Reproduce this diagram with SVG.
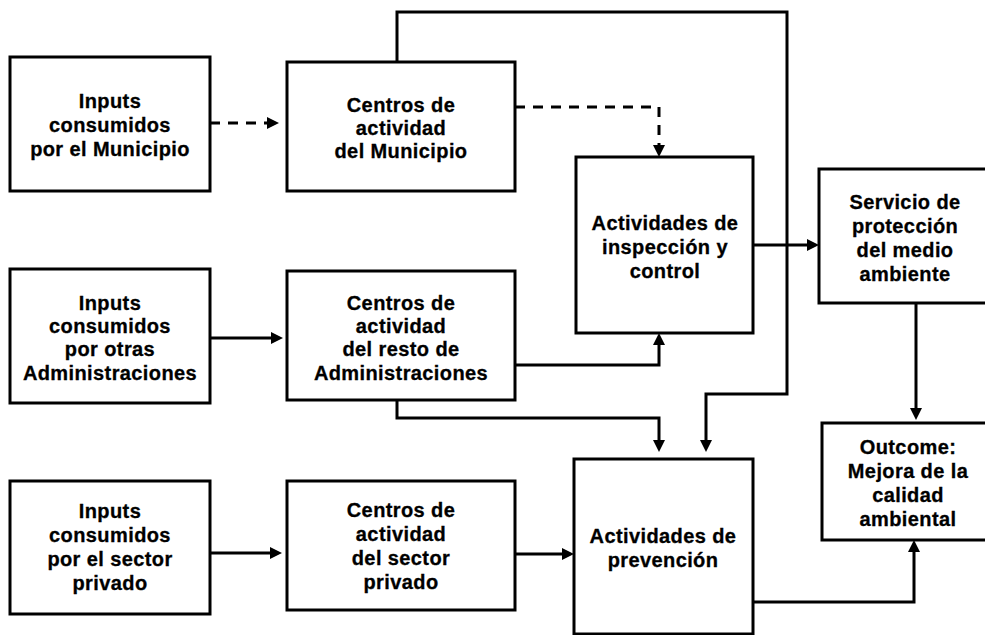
<svg xmlns="http://www.w3.org/2000/svg" width="985" height="635" viewBox="0 0 985 635">
<style>
.box{fill:#fff;stroke:#000;stroke-width:3}
.t{font-family:"Liberation Sans",Arial,sans-serif;font-weight:bold;font-size:20px;letter-spacing:0.4px;text-anchor:middle;fill:#000;stroke:#000;stroke-width:0.3}
.c{fill:none;stroke:#000;stroke-width:3;marker-end:url(#ah)}
.d{stroke-dasharray:10 8}
</style>
<defs>
<marker id="ah" viewBox="0 0 12 12" markerWidth="12" markerHeight="12" refX="5" refY="6" orient="auto" markerUnits="userSpaceOnUse">
<path d="M0,0 L12,6 L0,12 z" fill="#000"/>
</marker>
</defs>
<rect width="985" height="635" fill="#fff"/>
<g id="connectors">
<path class="c d" d="M210,123 H272"/>
<path class="c d" d="M515,107 H659 V150"/>
<path class="c" d="M210,338 H276"/>
<path class="c" d="M515,365 H659 V340"/>
<path class="c" d="M397,400 V418 H659 V445"/>
<path class="c" d="M397,62 V12 H787 V394 H706 V445"/>
<path class="c" d="M753,245 H812"/>
<path class="c" d="M916,303 V413"/>
<path class="c" d="M210,553 H275"/>
<path class="c" d="M515,554 H567"/>
<path class="c" d="M753,602 H914 V547"/>
</g>
<g id="n1"><rect class="box" x="10" y="57" width="200" height="134"/>
<text class="t"><tspan x="110" y="108">Inputs</tspan><tspan x="110" y="132">consumidos</tspan><tspan x="110" y="156">por el Municipio</tspan></text></g>
<g id="n2"><rect class="box" x="287" y="62" width="228" height="129"/>
<text class="t"><tspan x="401" y="112">Centros de</tspan><tspan x="401" y="135">actividad</tspan><tspan x="401" y="158">del Municipio</tspan></text></g>
<g id="n3"><rect class="box" x="576" y="157" width="177" height="176"/>
<text class="t"><tspan x="665" y="230">Actividades de</tspan><tspan x="665" y="254">inspección y</tspan><tspan x="665" y="278">control</tspan></text></g>
<g id="n4"><rect class="box" x="819" y="169" width="176" height="134"/>
<text class="t"><tspan x="905" y="209">Servicio de</tspan><tspan x="905" y="233">protección</tspan><tspan x="905" y="257">del medio</tspan><tspan x="905" y="281">ambiente</tspan></text></g>
<g id="n5"><rect class="box" x="10" y="269" width="200" height="134"/>
<text class="t"><tspan x="110" y="310">Inputs</tspan><tspan x="110" y="333">consumidos</tspan><tspan x="110" y="356">por otras</tspan><tspan x="110" y="380">Administraciones</tspan></text></g>
<g id="n6"><rect class="box" x="287" y="271" width="228" height="129"/>
<text class="t"><tspan x="401" y="310">Centros de</tspan><tspan x="401" y="333">actividad</tspan><tspan x="401" y="356">del resto de</tspan><tspan x="401" y="380">Administraciones</tspan></text></g>
<g id="n7"><rect class="box" x="822" y="423" width="173" height="117"/>
<text class="t"><tspan x="908" y="454">Outcome:</tspan><tspan x="908" y="478">Mejora de la</tspan><tspan x="908" y="502">calidad</tspan><tspan x="908" y="526">ambiental</tspan></text></g>
<g id="n8"><rect class="box" x="10" y="481" width="200" height="133"/>
<text class="t"><tspan x="110" y="518">Inputs</tspan><tspan x="110" y="542">consumidos</tspan><tspan x="110" y="566">por el sector</tspan><tspan x="110" y="590">privado</tspan></text></g>
<g id="n9"><rect class="box" x="287" y="481" width="228" height="129"/>
<text class="t"><tspan x="401" y="517">Centros de</tspan><tspan x="401" y="541">actividad</tspan><tspan x="401" y="565">del sector</tspan><tspan x="401" y="589">privado</tspan></text></g>
<g id="n10"><rect class="box" x="574" y="459" width="179" height="175"/>
<text class="t"><tspan x="663" y="543">Actividades de</tspan><tspan x="663" y="567">prevención</tspan></text></g>
</svg>
